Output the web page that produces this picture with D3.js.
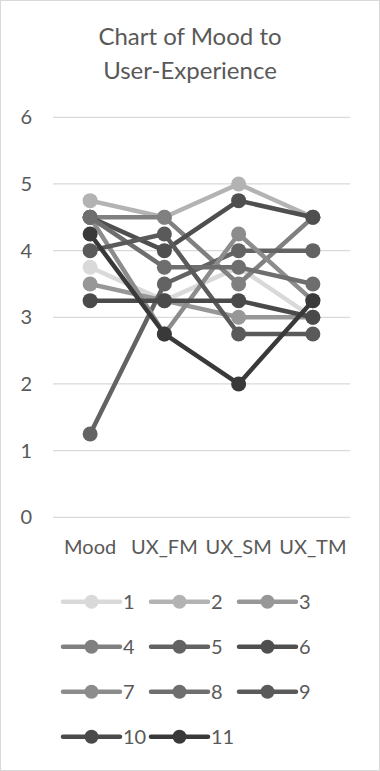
<!DOCTYPE html>
<html>
<head>
<meta charset="utf-8">
<script src="https://cdn.jsdelivr.net/npm/d3@7"></script>
<style>
  html, body { margin: 0; padding: 0; background: #fff; }
  svg { display: block; }
  text { font-family: Lato, "Open Sans", sans-serif; fill: #595959; }
</style>
</head>
<body>
<svg id="chart" width="380" height="771"></svg>
<script>
// ---- data ----
const categories = ["Mood", "UX_FM", "UX_SM", "UX_TM"];
const seriesNames = ["1", "2", "3", "4", "5", "6", "7", "8", "9", "10", "11"];
const s1  = [3.75, 3.25, 3.75, 3.0];
const s2  = [4.75, 4.5, 5.0, 4.5];
const s3  = [3.5, 3.25, 3.0, 3.0];
const s4  = [4.5, 4.5, 3.5, 4.5];
const s5  = [1.25, 3.5, 4.0, 4.0];
const s6  = [4.5, 4.0, 4.75, 4.5];
const s7  = [4.5, 2.75, 4.25, 3.25];
const s8  = [4.5, 3.75, 3.75, 3.5];
const s9  = [4.0, 4.25, 2.75, 2.75];
const s10 = [3.25, 3.25, 3.25, 3.0];
const s11 = [4.25, 2.75, 2.0, 3.25];
const seriesValues = [s1, s2, s3, s4, s5, s6, s7, s8, s9, s10, s11];
const seriesColors = ["#d9d9d9", "#b3b3b3", "#979797", "#808080", "#636363", "#4f4f4f",
                      "#8c8c8c", "#6e6e6e", "#5a5a5a", "#4a4a4a", "#393939"];
const yTicks = [0, 1, 2, 3, 4, 5, 6];
const title = ["Chart of Mood to", "User-Experience"];

// ---- layout ----
const svg = d3.select("#chart");
const W = 380, H = 771;
const plot = { left: 53, right: 350, top: 117.3, bottom: 517.3 };

svg.append("rect")
  .attr("x", 0.5).attr("y", 0.5).attr("width", W - 1).attr("height", H - 1)
  .attr("fill", "#fff").attr("stroke", "#d9d9d9").attr("stroke-width", 1);

svg.append("g").selectAll("text").data(title).join("text")
  .attr("x", 190).attr("y", (d, i) => 45 + i * 34)
  .attr("text-anchor", "middle")
  .style("font-size", "24px")
  .text(d => d);

const x = d3.scaleBand().domain(categories).range([plot.left, plot.right]);
const y = d3.scaleLinear().domain([0, 6]).range([plot.bottom, plot.top]);

// gridlines
svg.append("g").selectAll("line").data(yTicks).join("line")
  .attr("x1", plot.left).attr("x2", plot.right)
  .attr("y1", d => y(d)).attr("y2", d => y(d))
  .attr("stroke", "#d9d9d9").attr("stroke-width", 1.3);

// y axis labels
const yAxis = svg.append("g")
  .attr("transform", `translate(${plot.left},0)`)
  .call(d3.axisLeft(y).tickValues(yTicks).tickFormat(d3.format("d")).tickSize(0).tickPadding(21));
yAxis.select(".domain").remove();
yAxis.selectAll("text").style("font-size", "20px").attr("fill", "#595959")
  .style("font-family", "Lato, 'Open Sans', sans-serif");

// x axis labels
const xAxis = svg.append("g")
  .attr("transform", `translate(0,${plot.bottom})`)
  .call(d3.axisBottom(x).tickSize(0).tickPadding(23));
xAxis.select(".domain").remove();
xAxis.selectAll("text").style("font-size", "20px").attr("fill", "#595959")
  .style("font-family", "Lato, 'Open Sans', sans-serif");

// series
const cx = c => x(c) + x.bandwidth() / 2;
const line = d3.line().x((d, i) => cx(categories[i])).y(d => y(d));
const gSeries = svg.append("g");
seriesValues.forEach((vals, si) => {
  const g = gSeries.append("g");
  g.append("path").datum(vals)
    .attr("d", line).attr("fill", "none")
    .attr("stroke", seriesColors[si]).attr("stroke-width", 4.5)
    .attr("stroke-linejoin", "round");
  g.selectAll("circle").data(vals).join("circle")
    .attr("cx", (d, i) => cx(categories[i])).attr("cy", d => y(d))
    .attr("r", 7.5).attr("fill", seriesColors[si]);
});

// legend
const legend = svg.append("g");
const legItems = seriesNames.map((n, i) => ({ name: n, color: seriesColors[i], i }));
const lg = legend.selectAll("g").data(legItems).join("g")
  .attr("transform", d => `translate(${63 + (d.i % 3) * 88},${601.7 + Math.floor(d.i / 3) * 45})`);
lg.append("line").attr("x1", 0).attr("x2", 57).attr("y1", 0).attr("y2", 0)
  .attr("stroke", d => d.color).attr("stroke-width", 4.5).attr("stroke-linecap", "round");
lg.append("circle").attr("cx", 28.5).attr("cy", 0).attr("r", 7).attr("fill", d => d.color);
lg.append("text").attr("x", 60).attr("y", 0).attr("dy", "0.35em")
  .style("font-size", "20px").text(d => d.name);
</script>
</body>
</html>
